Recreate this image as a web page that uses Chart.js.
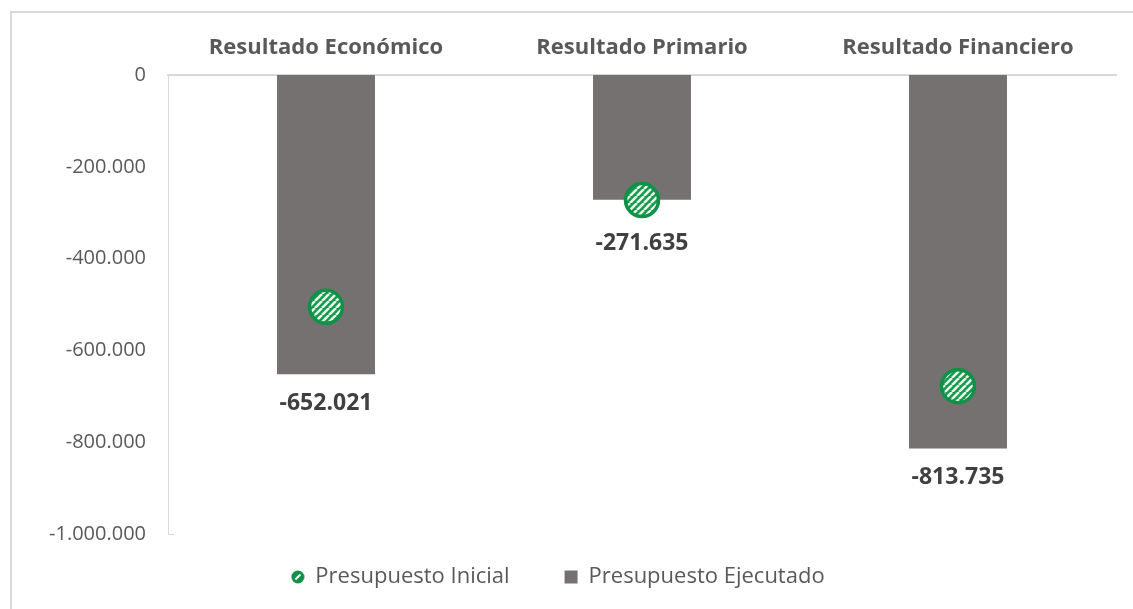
<!DOCTYPE html>
<html>
<head>
<meta charset="utf-8">
<script src="https://cdn.jsdelivr.net/npm/chart.js@4/dist/chart.umd.min.js"></script>
<style>
  html, body { margin: 0; padding: 0; background: #fff; overflow: hidden; }
  #chart { display: block; }
</style>
</head>
<body>
<canvas id="chart" width="1133" height="609"></canvas>
<script>
const categories = ['Resultado Económico', 'Resultado Primario', 'Resultado Financiero'];
const ejecutado = [-652021, -271635, -813735];
const inicial = [-505000, -272500, -678000];
const yTicks = [0, -200000, -400000, -600000, -800000, -1000000];

const fontName = "'Open Sans', 'Noto Sans', sans-serif";

function fmt(v) {
    let s = Math.abs(Math.round(v)).toString().replace(/\B(?=(\d{3})+(?!\d))/g, '.');
    return (v < 0 ? '-' : '') + s;
}

// hatched green fill for the markers
function makeHatch(size, lw) {
    let c = document.createElement('canvas');
    c.width = size; c.height = size;
    let g = c.getContext('2d');
    g.fillStyle = '#139a4b';
    g.fillRect(0, 0, size, size);
    g.strokeStyle = '#e9f4ec';
    g.lineWidth = lw;
    g.beginPath();
    for (let k = -1; k <= 1; k++) {
        g.moveTo(k * size, size);
        g.lineTo(k * size + size, 0);
    }
    g.stroke();
    return g.createPattern(c, 'repeat');
}
const hatch = makeHatch(7, 2.6);

// small legend marker: green dot with a white slash
function makeLegendDot() {
    let c = document.createElement('canvas');
    c.width = 14; c.height = 14;
    let g = c.getContext('2d');
    g.fillStyle = '#0f9147';
    g.beginPath();
    g.arc(7, 7, 6.5, 0, Math.PI * 2);
    g.fill();
    g.strokeStyle = '#ffffff';
    g.lineWidth = 2;
    g.beginPath();
    g.moveTo(4.5, 9.5);
    g.lineTo(9.5, 4.5);
    g.stroke();
    return c;
}
const legendDot = makeLegendDot();

const framePlugin = {
    id: 'frame',
    beforeDraw(chart) {
        const ctx = chart.ctx;
        ctx.save();
        ctx.strokeStyle = '#d9d9d9';
        ctx.lineWidth = 2;
        ctx.beginPath();
        ctx.moveTo(11, 609);
        ctx.lineTo(11, 12);
        ctx.lineTo(1133, 12);
        ctx.stroke();
        // small tick at bottom of value axis
        const a = chart.chartArea;
        ctx.lineWidth = 1;
        ctx.beginPath();
        ctx.moveTo(a.left, a.bottom + 0.5);
        ctx.lineTo(a.left + 6, a.bottom + 0.5);
        ctx.stroke();
        ctx.restore();
    }
};

// legend: wide gap between items but sitting close under the plot
const legendTweak = {
    id: 'legendTweak',
    afterInit(chart) {
        const lg = chart.legend;
        if (!lg) return;
        const fit = lg.fit;
        lg.fit = function () { fit.call(this); this.height = 75; };
        const draw = lg.draw;
        lg.draw = function () {
            const t = this.top;
            this.top = t - 23;
            draw.call(this);
            this.top = t;
        };
    }
};

const labelPlugin = {
    id: 'barLabels',
    afterDatasetsDraw(chart) {
        const ctx = chart.ctx;
        const barMeta = chart.getDatasetMeta(1);
        const ptMeta = chart.getDatasetMeta(0);
        ctx.save();
        ctx.font = "bold 23px " + fontName;
        ctx.fillStyle = '#404040';
        ctx.textAlign = 'center';
        ctx.textBaseline = 'middle';
        barMeta.data.forEach((bar, i) => {
            let y = bar.y + 29;
            const pt = ptMeta.data[i];
            if (pt) y = Math.max(y, pt.y + 43);
            ctx.fillText(fmt(ejecutado[i]), bar.x, y);
        });
        ctx.restore();
    }
};

new Chart(document.getElementById('chart'), {
    type: 'bar',
    data: {
        labels: categories,
        datasets: [
            {
                type: 'line',
                label: 'Presupuesto Inicial',
                data: inicial,
                showLine: false,
                pointStyle: 'circle',
                pointRadius: 16.5,
                pointHoverRadius: 16.5,
                pointBackgroundColor: hatch,
                pointBorderColor: '#0f9147',
                pointBorderWidth: 3.5,
                backgroundColor: hatch,
                borderColor: '#0f9147',
                order: 0
            },
            {
                type: 'bar',
                label: 'Presupuesto Ejecutado',
                data: ejecutado,
                backgroundColor: '#767171',
                borderWidth: 0,
                barPercentage: 0.31,
                categoryPercentage: 1,
                order: 1
            }
        ]
    },
    options: {
        responsive: false,
        animation: false,
        layout: { autoPadding: false, padding: { left: 0, right: 17, top: 0, bottom: 0 } },
        plugins: {
            tooltip: { enabled: false },
            legend: {
                position: 'bottom',
                labels: {
                    usePointStyle: true,
                    font: { family: fontName, size: 22, weight: 'normal' },
                    color: '#595959',
                    padding: 55,
                    boxWidth: 13,
                    boxHeight: 13,
                    generateLabels(chart) {
                        return [
                            { text: 'Presupuesto Inicial', fillStyle: '#0f9147', strokeStyle: '#0f9147', lineWidth: 0, pointStyle: legendDot, datasetIndex: 0, fontColor: '#595959' },
                            { text: 'Presupuesto Ejecutado', fillStyle: '#767171', strokeStyle: '#767171', lineWidth: 0, pointStyle: 'rect', datasetIndex: 1, fontColor: '#595959' }
                        ];
                    }
                }
            }
        },
        scales: {
            x: {
                position: 'top',
                grid: { display: false, drawTicks: false },
                border: { display: true, color: '#d9d9d9', width: 2 },
                ticks: {
                    color: '#595959',
                    font: { family: fontName, size: 22, weight: 'bold' },
                    padding: 14
                },
                afterFit(scale) {
                    scale.height = 75;
                    scale.paddingLeft = 0;
                    scale.paddingRight = 0;
                }
            },
            y: {
                min: -1000000,
                max: 0,
                afterBuildTicks(scale) { scale.ticks = yTicks.map(v => ({ value: v })); },
                grid: { display: false, drawTicks: false },
                border: { display: true, color: '#d9d9d9', width: 1 },
                ticks: {
                    color: '#595959',
                    font: { family: fontName, size: 20, weight: 'normal' },
                    padding: 22,
                    callback: v => fmt(v)
                },
                afterFit(scale) { scale.width = 168; }
            }
        }
    },
    plugins: [framePlugin, legendTweak, labelPlugin]
});
</script>
</body>
</html>
